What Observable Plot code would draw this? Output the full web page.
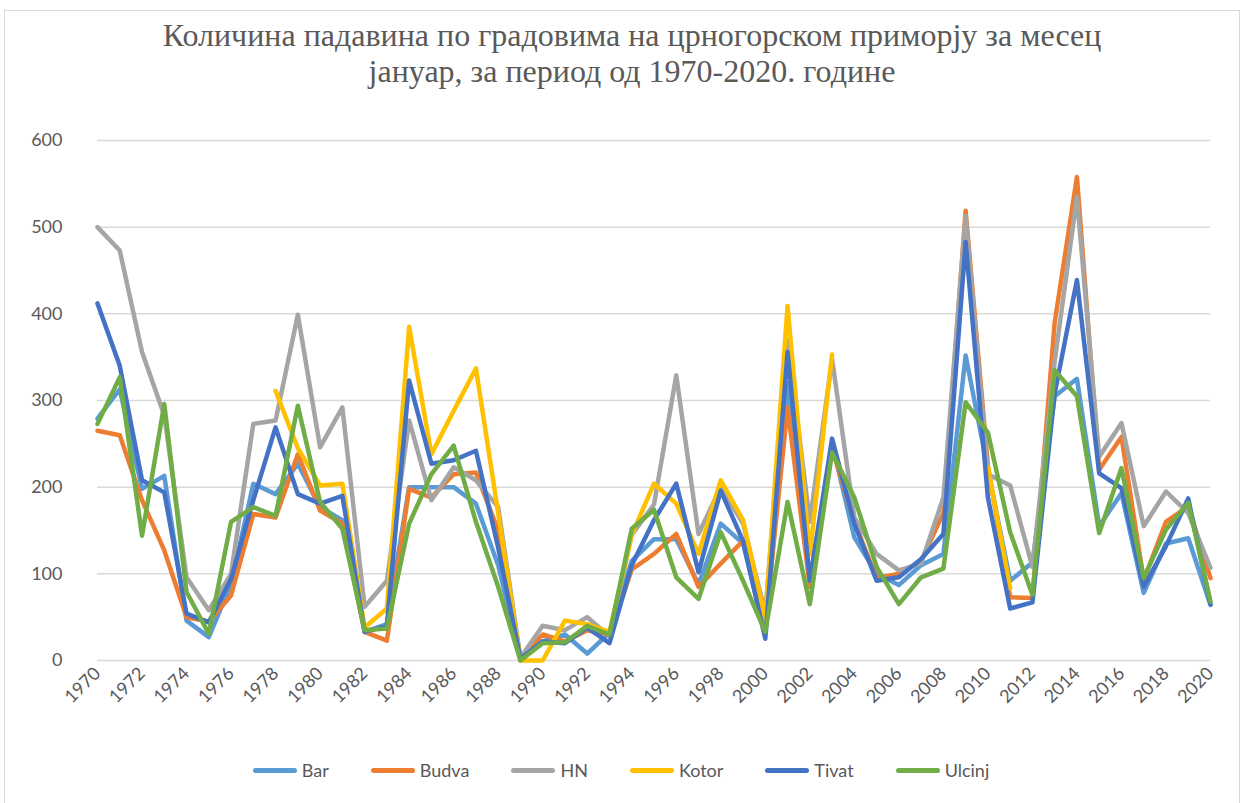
<!DOCTYPE html>
<html>
<head>
<meta charset="utf-8">
<script src="https://cdn.jsdelivr.net/npm/d3@7"></script>
<script src="https://cdn.jsdelivr.net/npm/@observablehq/plot@0.6"></script>
<style>
  html, body { margin: 0; padding: 0; background: #fff; }
  #wrap { position: relative; width: 1246px; height: 803px; overflow: hidden; background: #fff; }
  #frame { position: absolute; left: 4px; top: 10px; width: 1236px; height: 800px; border: 1px solid #d9d9d9; box-sizing: border-box; }
  #title { position: absolute; left: 0; top: 17px; width: 1264px; text-align: center; font-family: "Liberation Serif", "DejaVu Serif", serif; font-size: 32px; line-height: 36px; color: #595959; }
  #chart { position: absolute; left: 0; top: 0; }
  #legend { position: absolute; left: 0; top: 759px; width: 1242px; display: flex; justify-content: center; align-items: center; gap: 42px; font-family: Lato, "Open Sans", sans-serif; font-size: 18px; color: #595959; }
  .item { display: flex; align-items: center; gap: 5px; }
  .sw { display: inline-block; width: 44px; height: 5px; border-radius: 3px; }
</style>
</head>
<body>
<div id="wrap">
  <div id="frame"></div>
  <div id="chart"></div>
  <div id="title">Количина падавина по градовима на црногорском приморју за месец<br>јануар, за период од 1970-2020. године</div>
  <div id="legend"></div>
</div>
<script>
const years = [1970,1971,1972,1973,1974,1975,1976,1977,1978,1979,1980,1981,1982,1983,1984,1985,1986,1987,1988,1989,1990,1991,1992,1993,1994,1995,1996,1997,1998,1999,2000,2001,2002,2003,2004,2005,2006,2007,2008,2009,2010,2011,2012,2013,2014,2015,2016,2017,2018,2019,2020];

const bar = [279,313,198,213,46,27,88,204,192,227,177,162,33,42,200,200,200,181,110,2,22,30,8,32,115,140,140,88,158,135,32,320,90,250,142,100,87,110,123,352,220,92,113,305,325,155,193,78,135,141,64];
const budva = [265,260,185,127,50,45,75,169,165,238,173,158,33,23,198,188,215,217,150,2,30,22,35,30,105,123,146,85,112,138,40,292,85,245,160,95,100,115,170,519,225,73,72,390,558,220,258,93,160,178,95];
const hn = [500,473,356,283,96,58,100,273,277,399,246,292,62,92,277,185,223,208,177,3,40,35,50,28,145,180,329,146,200,158,55,370,160,348,165,123,104,112,188,513,215,202,108,345,535,235,274,155,195,170,107];
const kotor = [null,null,null,null,null,null,null,null,311,245,202,204,38,60,385,238,288,337,170,0,0,46,42,33,145,204,181,123,208,162,48,409,122,353,null,null,null,null,null,null,223,83,null,null,null,null,null,null,null,null,null];
const tivat = [412,340,208,194,54,44,94,185,269,192,181,190,33,40,323,227,231,242,130,2,22,20,38,20,110,162,204,102,196,138,25,356,92,256,158,92,96,117,146,483,188,60,67,308,439,216,199,85,132,187,65];
const ulcinj = [273,327,144,296,79,31,160,177,167,294,183,152,35,37,158,215,248,160,85,0,20,21,40,30,152,174,96,71,148,92,33,183,65,240,188,108,65,96,106,298,263,148,76,335,305,147,222,95,151,182,68];

const seriesNames = ["Bar","Budva","HN","Kotor","Tivat","Ulcinj"];
const seriesColors = ["#5B9BD5","#ED7D31","#A5A5A5","#FFC000","#4472C4","#70AD47"];
const seriesValues = [bar, budva, hn, kotor, tivat, ulcinj];
const yTicks = [0,100,200,300,400,500,600];
const xTicks = [1970,1972,1974,1976,1978,1980,1982,1984,1986,1988,1990,1992,1994,1996,1998,2000,2002,2004,2006,2008,2010,2012,2014,2016,2018,2020];

const rows = [];
seriesNames.forEach((s, i) => {
  years.forEach((y, j) => {
    const v = seriesValues[i][j];
    rows.push({series: s, year: y, value: v == null ? NaN : v});
  });
});

const chart = Plot.plot({
  width: 1246,
  height: 740,
  marginTop: 140,
  marginBottom: 80,
  marginLeft: 97,
  marginRight: 36,
  style: {fontFamily: "Lato, 'Open Sans', sans-serif", fontSize: "18px", color: "#595959", background: "transparent"},
  x: {type: "linear", domain: [1970, 2020]},
  y: {domain: [0, 600]},
  color: {domain: seriesNames, range: seriesColors},
  marks: [
    Plot.gridY(yTicks, {stroke: "#d9d9d9", strokeOpacity: 1, strokeWidth: 1.5}),
    Plot.axisY({ticks: yTicks, tickSize: 0, tickPadding: 35, label: null, fontSize: 18}),
    Plot.axisX({ticks: xTicks, tickSize: 0, tickPadding: 10, tickRotate: -45, tickFormat: d => String(d), label: null, fontSize: 18}),
    Plot.lineY(rows, {x: "year", y: "value", z: "series", stroke: "series", strokeWidth: 4.5, strokeLinejoin: "round", strokeLinecap: "round"})
  ]
});
document.getElementById("chart").appendChild(chart);

const legend = document.getElementById("legend");
seriesNames.forEach((s, i) => {
  const item = document.createElement("div");
  item.className = "item";
  const sw = document.createElement("span");
  sw.className = "sw";
  sw.style.background = seriesColors[i];
  const t = document.createElement("span");
  t.textContent = s;
  item.appendChild(sw);
  item.appendChild(t);
  legend.appendChild(item);
});
</script>
</body>
</html>
